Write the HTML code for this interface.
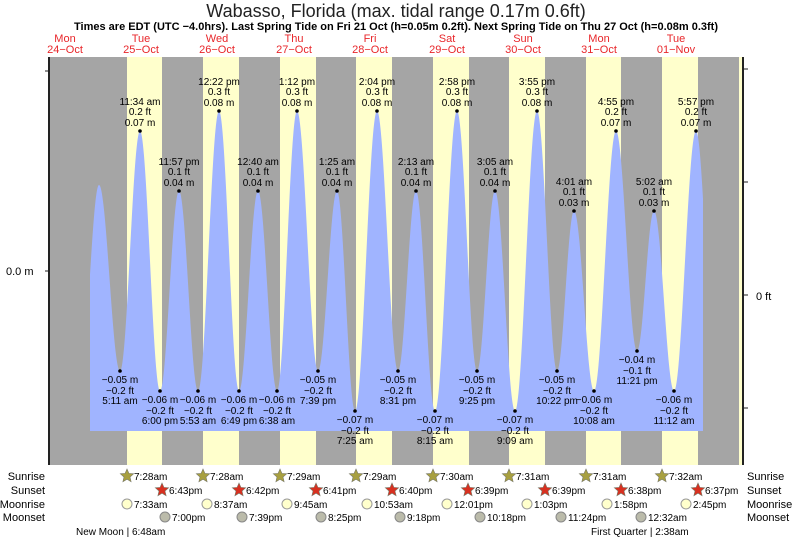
<!DOCTYPE html>
<html><head><meta charset="utf-8"><style>
html,body{margin:0;padding:0;background:#fff}
svg{display:block;font-family:"Liberation Sans",sans-serif}
</style></head><body>
<svg id="s" width="793" height="539" viewBox="0 0 793 539" xmlns="http://www.w3.org/2000/svg">
<rect width="793" height="539" fill="#fff"/>
<text x="396" y="17" font-size="18" text-anchor="middle" fill="#222">Wabasso, Florida (max. tidal range 0.17m 0.6ft)</text>
<text x="396" y="30" font-size="11" font-weight="bold" text-anchor="middle" fill="#000">Times are EDT (UTC −4.0hrs). Last Spring Tide on Fri 21 Oct (h=0.05m 0.2ft). Next Spring Tide on Thu 27 Oct (h=0.08m 0.3ft)</text>
<g id="days" font-size="11" fill="#e8262a" text-anchor="middle"></g>
<rect x="49" y="57" width="690" height="408" fill="#a5a5a5"/>
<g id="bands" fill="#ffffcc"></g>
<path id="tide" fill="#a0b4ff" d=""/>
<g id="lab" font-size="10" fill="#000" text-anchor="middle"></g>
<line x1="49" y1="57" x2="49" y2="465" stroke="#222" stroke-width="2"/>
<line x1="45" y1="71" x2="49" y2="71" stroke="#222"/>
<line x1="45" y1="271" x2="49" y2="271" stroke="#222"/>
<text x="6" y="275" font-size="11" fill="#000">0.0 m</text>
<line x1="743" y1="57" x2="743" y2="465" stroke="#222" stroke-width="2"/>
<g stroke="#222"><line x1="743" y1="69" x2="748" y2="69"/><line x1="743" y1="182" x2="748" y2="182"/><line x1="743" y1="295" x2="748" y2="295"/><line x1="743" y1="408" x2="748" y2="408"/></g>
<text x="756" y="300" font-size="11" fill="#000">0 ft</text>
<g font-size="11" fill="#000">
<text x="45" y="480" text-anchor="end">Sunrise</text>
<text x="45" y="494" text-anchor="end">Sunset</text>
<text x="45" y="508" text-anchor="end">Moonrise</text>
<text x="45" y="521" text-anchor="end">Moonset</text>
<text x="747" y="480">Sunrise</text>
<text x="747" y="494">Sunset</text>
<text x="747" y="508">Moonrise</text>
<text x="747" y="521">Moonset</text>
</g>
<g id="bot" font-size="10" fill="#000"></g>
<text x="76" y="535" font-size="10" fill="#000">New Moon | 6:48am</text>
<text x="591" y="535" font-size="10" fill="#000">First Quarter | 2:38am</text>
</svg>
<script>
const NS="http://www.w3.org/2000/svg";
function el(p,t,a,txt){const e=document.createElementNS(NS,t);for(const k in a)e.setAttribute(k,a[k]);if(txt!=null)e.textContent=txt;document.getElementById(p).appendChild(e);return e;}
const days=[["Mon","24−Oct",65],["Tue","25−Oct",141],["Wed","26−Oct",217],["Thu","27−Oct",294],["Fri","28−Oct",370],["Sat","29−Oct",447],["Sun","30−Oct",523],["Mon","31−Oct",599],["Tue","01−Nov",676]];
days.forEach(d=>{el("days","text",{x:d[2],y:42},d[0]);el("days","text",{x:d[2],y:53},d[1]);});
const bands=[[127,162],[203,239],[280,316],[356,392],[433,469],[509,545],[586,621],[662,698],[739,742]];
bands.forEach(b=>el("bands","rect",{x:b[0],y:57,width:b[1]-b[0],height:408}));
const ex=[[60,380,0],[80,380,0],[99,185,0],
[120,371,"−0.05 m|−0.2 ft|5:11 am"],[140,131,"11:34 am|0.2 ft|0.07 m"],[160,391,"−0.06 m|−0.2 ft|6:00 pm"],[179,191,"11:57 pm|0.1 ft|0.04 m"],
[198,391,"−0.06 m|−0.2 ft|5:53 am"],[219,111,"12:22 pm|0.3 ft|0.08 m"],[239,391,"−0.06 m|−0.2 ft|6:49 pm"],[258,191,"12:40 am|0.1 ft|0.04 m"],
[277,391,"−0.06 m|−0.2 ft|6:38 am"],[297,111,"1:12 pm|0.3 ft|0.08 m"],[318,371,"−0.05 m|−0.2 ft|7:39 pm"],[337,191,"1:25 am|0.1 ft|0.04 m"],
[355,411,"−0.07 m|−0.2 ft|7:25 am"],[377,111,"2:04 pm|0.3 ft|0.08 m"],[398,371,"−0.05 m|−0.2 ft|8:31 pm"],[416,191,"2:13 am|0.1 ft|0.04 m"],
[435,411,"−0.07 m|−0.2 ft|8:15 am"],[457,111,"2:58 pm|0.3 ft|0.08 m"],[477,371,"−0.05 m|−0.2 ft|9:25 pm"],[495,191,"3:05 am|0.1 ft|0.04 m"],
[515,411,"−0.07 m|−0.2 ft|9:09 am"],[537,111,"3:55 pm|0.3 ft|0.08 m"],[557,371,"−0.05 m|−0.2 ft|10:22 pm"],[574,211,"4:01 am|0.1 ft|0.03 m"],
[594,391,"−0.06 m|−0.2 ft|10:08 am"],[616,131,"4:55 pm|0.2 ft|0.07 m"],[637,351,"−0.04 m|−0.1 ft|11:21 pm"],[654,211,"5:02 am|0.1 ft|0.03 m"],
[674,391,"−0.06 m|−0.2 ft|11:12 am"],[696,131,"5:57 pm|0.2 ft|0.07 m"],[716,380,0]];
let pts=[];
for(let i=0;i<ex.length-1;i++){const a=ex[i],b=ex[i+1];for(let x=Math.ceil(a[0]);x<b[0];x+=0.5){const t=(x-a[0])/(b[0]-a[0]);pts.push([x,a[1]+(b[1]-a[1])*(1-Math.cos(Math.PI*t))/2]);}}
pts=pts.filter(p=>p[0]>=90&&p[0]<=703);
let d="M90,431 ";pts.forEach(p=>d+="L"+p[0].toFixed(1)+","+p[1].toFixed(1)+" ");d+="L703,431 Z";
document.getElementById("tide").setAttribute("d",d);
ex.forEach(e=>{if(!e[2])return;const L=e[2].split("|");const hi=!L[0].startsWith("−");
el("lab","circle",{cx:e[0],cy:e[1],r:1.8,fill:"#000"});
if(hi){el("lab","text",{x:e[0],y:e[1]-26},L[0]);el("lab","text",{x:e[0],y:e[1]-16},L[1]);el("lab","text",{x:e[0],y:e[1]-5},L[2]);}
else{el("lab","text",{x:e[0],y:e[1]+12},L[0]);el("lab","text",{x:e[0],y:e[1]+23},L[1]);el("lab","text",{x:e[0],y:e[1]+33},L[2]);}});
function star(x,y,fill){let p="";for(let i=0;i<10;i++){const r=i%2?3.2:7,a=-Math.PI/2+i*Math.PI/5;p+=(x+r*Math.cos(a)).toFixed(1)+","+(y+r*Math.sin(a)).toFixed(1)+" ";}el("bot","polygon",{points:p,fill:fill,stroke:"#776",["stroke-width"]:0.6});}
const sr=[[127,"7:28am"],[203,"7:28am"],[280,"7:29am"],[356,"7:29am"],[433,"7:30am"],[509,"7:31am"],[586,"7:31am"],[662,"7:32am"]];
sr.forEach(s=>{star(s[0],476,"#a8a040");el("bot","text",{x:s[0]+7,y:480},s[1]);});
const ss=[[162,"6:43pm"],[239,"6:42pm"],[316,"6:41pm"],[392,"6:40pm"],[468,"6:39pm"],[545,"6:39pm"],[621,"6:38pm"],[698,"6:37pm"]];
ss.forEach(s=>{star(s[0],490,"#d83020");el("bot","text",{x:s[0]+7,y:494},s[1]);});
const mr=[[127,"7:33am"],[207,"8:37am"],[287,"9:45am"],[367,"10:53am"],[447,"12:01pm"],[527,"1:03pm"],[607,"1:58pm"],[686,"2:45pm"]];
mr.forEach(s=>{el("bot","circle",{cx:s[0],cy:504,r:5,fill:"#ffffcc",stroke:"#999"});el("bot","text",{x:s[0]+7,y:508},s[1]);});
const ms=[[165,"7:00pm"],[242,"7:39pm"],[321,"8:25pm"],[400,"9:18pm"],[480,"10:18pm"],[561,"11:24pm"],[641,"12:32am"]];
ms.forEach(s=>{el("bot","circle",{cx:s[0],cy:517,r:5,fill:"#bbbbaa",stroke:"#888"});el("bot","text",{x:s[0]+7,y:521},s[1]);});
</script>
</body></html>
